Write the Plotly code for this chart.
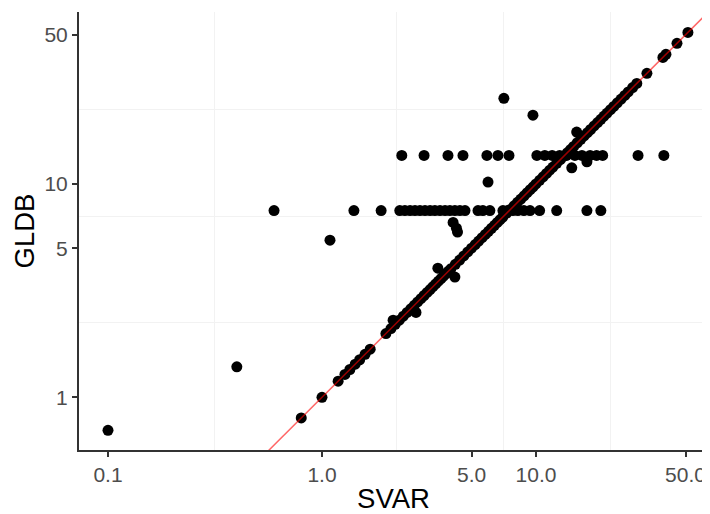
import plotly.graph_objects as go

# ---- data ----
# points lying on the 1:1 line (SVAR == GLDB)
matched_values = [0.80, 1.0, 1.19, 1.28, 1.35, 1.43, 1.50, 1.59, 1.68, 1.99, 2.10, 2.20,
                  2.30, 2.40, 2.50, 2.60, 2.70, 2.80, 2.90, 3.00, 3.10, 3.20, 3.30, 3.40,
                  3.50, 3.60, 3.70, 3.80, 3.90, 4.00, 4.20, 4.40, 4.60, 4.80, 5.00, 5.20,
                  5.40, 5.60, 5.80, 6.00, 6.20, 6.40, 6.60, 6.80, 7.00, 7.30, 7.60, 7.90,
                  8.20, 8.50, 8.80, 9.10, 9.40, 9.70, 10.0, 10.4, 10.8, 11.2, 11.6, 12.0,
                  12.5, 13.0, 13.5, 14.0, 14.5, 15.0, 15.6, 16.2, 16.8, 17.4, 18.0, 18.7,
                  19.4, 20.1, 20.8, 21.5, 22.3, 23.1, 24.0, 25.0, 26.0, 27.0, 28.3, 29.6,
                  33.0, 39.2, 40.5, 45.6, 51.3]

# horizontal band at GLDB ~ 7.5
band1_svar = [0.597, 1.41, 1.89, 2.31, 2.44, 2.58, 2.72, 2.87, 3.03, 3.20, 3.37, 3.56,
              3.76, 3.96, 4.18, 4.41, 4.66, 5.36, 5.65, 6.09, 7.01, 7.39, 7.80, 8.23,
              8.78, 9.38, 10.4, 12.5, 17.3, 20.1]
band1_gldb = [7.5] * len(band1_svar)

# horizontal band at GLDB ~ 13.6
band2_svar = [2.36, 3.00, 3.88, 4.56, 5.90, 6.64, 7.48, 10.1, 11.0, 11.9, 12.9, 13.9,
              15.2, 16.4, 17.9, 19.2, 20.5, 30.0, 39.6]
band2_gldb = [13.6] * len(band2_svar)

# remaining scattered points
other_svar = [0.10, 0.40, 1.09, 5.97, 7.08, 9.68, 4.10, 4.25, 4.30, 14.7, 17.3, 15.5,
              3.48, 4.18, 2.75, 2.15]
other_gldb = [0.70, 1.39, 5.45, 10.2, 25.2, 21.0, 6.60, 6.20, 5.95, 11.9, 12.7, 17.5,
              4.03, 3.66, 2.50, 2.30]

# 1:1 reference line
ref_line = [0.01, 100]

x_ticks = [0.1, 1, 5, 10, 50]
x_ticktext = ["0.1", "1.0", "5.0", "10.0", "50.0"]
y_ticks = [1, 5, 10, 50]
y_ticktext = ["1", "5", "10", "50"]
x_minor = [0.316, 2.236, 7.07, 22.36]
y_minor = [2.236, 7.07, 22.36]

svar = matched_values + band1_svar + band2_svar + other_svar
gldb = matched_values + band1_gldb + band2_gldb + other_gldb

fig = go.Figure()
fig.add_trace(go.Scatter(x=svar, y=gldb, mode="markers",
                         marker=dict(color="black", size=11, line=dict(width=0)),
                         showlegend=False))
fig.add_trace(go.Scatter(x=ref_line, y=ref_line, mode="lines",
                         line=dict(color="rgba(255,0,0,0.6)", width=1.5),
                         showlegend=False))

FONT = "Arial, Liberation Sans, sans-serif"
axis_common = dict(
    type="log", showgrid=False, zeroline=False, showline=True,
    linecolor="#333333", linewidth=2, ticks="outside", ticklen=5,
    tickwidth=1.5, tickcolor="#333333",
    tickfont=dict(family=FONT, size=21, color="#4d4d4d"),
    automargin=False,
)

# the page body adds an 8px offset; margins compensate so the plot area sits where the reference has it
fig.update_layout(
    width=710, height=514,
    margin=dict(l=71, r=10, t=4, b=72),
    paper_bgcolor="white", plot_bgcolor="white",
    font=dict(family=FONT),
    xaxis=dict(axis_common, range=[-1.1355, 1.804], tickvals=x_ticks, ticktext=x_ticktext,
               title=dict(text="SVAR", font=dict(family=FONT, size=27.5, color="black"), standoff=4),
               minor=dict(tickmode="array", tickvals=x_minor, showgrid=True,
                          gridcolor="#f2f2f2", gridwidth=1, ticks="")),
    yaxis=dict(axis_common, range=[-0.247, 1.806], tickvals=y_ticks, ticktext=y_ticktext,
               title=dict(text="GLDB", font=dict(family=FONT, size=27.5, color="black"), standoff=2),
               minor=dict(tickmode="array", tickvals=y_minor, showgrid=True,
                          gridcolor="#f2f2f2", gridwidth=1, ticks="")),
)

fig.write_html("out.html")
